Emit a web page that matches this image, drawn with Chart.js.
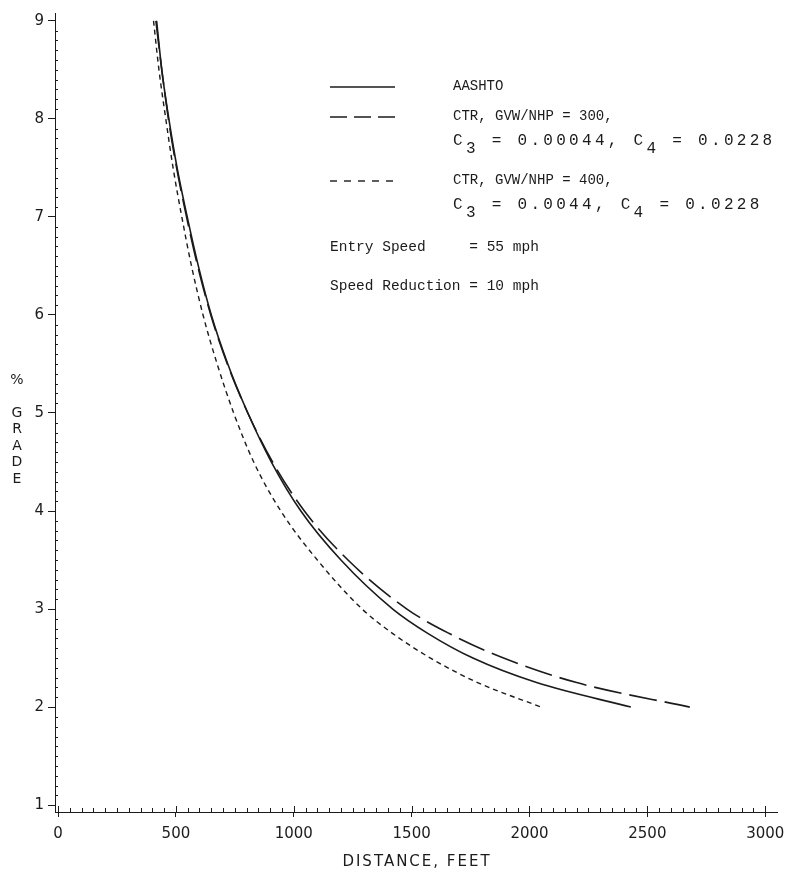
<!DOCTYPE html>
<html>
<head>
<meta charset="utf-8">
<script src="https://cdn.jsdelivr.net/npm/chart.js@4.4.1/dist/chart.umd.min.js"></script>
<style>
  html, body { margin: 0; padding: 0; background: #fff; }
  #wrap { width: 791px; height: 876px; position: relative; }
</style>
</head>
<body>
<div id="wrap"><canvas id="myChart"></canvas></div>
<script>
// % grade at which each distance was read
const grades = [9.0, 8.5, 8.0, 7.5, 7.0, 6.5, 6.0, 5.5, 5.0, 4.5, 4.0, 3.5, 3.0, 2.75, 2.5, 2.25, 2.0];
// distance in feet for each curve
const aashto = [418, 440, 470, 505, 548, 595, 650, 720, 805, 905, 1030, 1200, 1420, 1570, 1760, 2030, 2430];
const ctr300 = [415, 440, 468, 503, 545, 592, 648, 718, 805, 910, 1045, 1230, 1480, 1660, 1890, 2200, 2680];
const ctr400 = [405, 428, 457, 488, 525, 566, 615, 675, 745, 830, 945, 1100, 1290, 1420, 1580, 1780, 2050];

const xTicks = [0, 500, 1000, 1500, 2000, 2500, 3000];
const yTicks = [1, 2, 3, 4, 5, 6, 7, 8, 9];

const seriesNames = ['AASHTO', 'CTR, GVW/NHP = 300,', 'CTR, GVW/NHP = 400,'];
// "_" marks the next char as a subscript
const seriesParams = ['', 'C_3 = 0.00044, C_4 = 0.0228', 'C_3 = 0.0044, C_4 = 0.0228'];
const notesText = ['Entry Speed     = 55 mph', 'Speed Reduction = 10 mph'];
const xTitle = 'DISTANCE, FEET';
const yTitle = ['%', '', 'G', 'R', 'A', 'D', 'E'];

const toPts = (xs) => xs.map((d, i) => ({ x: d, y: grades[i] }));
const ink = '#1b1b1b';

// small inside ticks between the labelled ones
const minorTicks = {
  id: 'minorTicks',
  afterDraw(chart) {
    const { ctx, chartArea: a } = chart;
    const x = chart.scales.x, y = chart.scales.y;
    ctx.save();
    ctx.strokeStyle = ink;
    ctx.lineWidth = 1;
    ctx.beginPath();
    for (let v = 0; v <= 3000; v += 50) {
      const px = Math.round(x.getPixelForValue(v)) + 0.5;
      const len = v % 500 === 0 ? 6 : 4;
      ctx.moveTo(px, a.bottom);
      ctx.lineTo(px, a.bottom - len);
    }
    for (let i = 10; i <= 90; i++) {
      if (i % 10 === 0) continue;
      const py = Math.round(y.getPixelForValue(i / 10)) + 0.5;
      ctx.moveTo(a.left, py);
      ctx.lineTo(a.left + 3, py);
    }
    ctx.stroke();
    ctx.restore();
  }
};

// axis titles: stacked "% GRADE" and a spaced-out "DISTANCE, FEET"
const axisTitles = {
  id: 'axisTitles',
  afterDraw(chart) {
    const ctx = chart.ctx;
    const a = chart.chartArea;
    ctx.save();
    ctx.fillStyle = ink;
    ctx.font = '14px "DejaVu Sans"';
    ctx.textAlign = 'center';
    ctx.textBaseline = 'middle';
    const y0 = chart.scales.y.getPixelForValue(5) - 33;
    yTitle.forEach((ch, i) => ctx.fillText(ch, 17, y0 + i * 16.5));
    ctx.font = '15px "DejaVu Sans"';
    ctx.letterSpacing = '2px';
    ctx.fillText(xTitle, (a.left + a.right) / 2 + 1, 862);
    ctx.restore();
  }
};

// key with line samples and the run conditions
const keyBox = {
  id: 'keyBox',
  afterDraw(chart) {
    const ctx = chart.ctx;
    const rows = [86, 116, 180];
    const subRows = [0, 141, 205];
    const x1 = 330, x2 = 395, tx = 453;
    ctx.save();
    ctx.fillStyle = ink;
    ctx.textBaseline = 'middle';
    chart.data.datasets.forEach((ds, i) => {
      ctx.strokeStyle = ds.borderColor;
      ctx.lineWidth = ds.borderWidth;
      ctx.setLineDash(i === 0 ? [] : (i === 1 ? [17, 7] : [7, 7]));
      ctx.beginPath();
      ctx.moveTo(x1, rows[i] + 1);
      ctx.lineTo(x2, rows[i] + 1);
      ctx.stroke();
      ctx.setLineDash([]);
      ctx.font = '14px "Liberation Mono"';
      ctx.fillText(seriesNames[i], tx, rows[i]);
      if (seriesParams[i]) {
        ctx.font = '16px "Liberation Mono"';
        const pitch = 12.9;
        let col = 0, sub = false;
        for (const ch of seriesParams[i]) {
          if (ch === '_') { sub = true; continue; }
          ctx.fillText(ch, tx + col * pitch, subRows[i] + (sub ? 8 : 0));
          sub = false;
          col++;
        }
      }
    });
    ctx.font = '14.5px "Liberation Mono"';
    ctx.fillText(notesText[0], x1, 247);
    ctx.fillText(notesText[1], x1, 286);
    ctx.restore();
  }
};

const chartInstance = new Chart(document.getElementById('myChart'), {
  type: 'line',
  data: {
    datasets: [
      { label: seriesNames[0], data: toPts(aashto), borderColor: ink, borderWidth: 1.6, borderDash: [] },
      { label: seriesNames[1], data: toPts(ctr300), borderColor: ink, borderWidth: 1.6, borderDash: [28, 8] },
      { label: seriesNames[2], data: toPts(ctr400), borderColor: ink, borderWidth: 1.4, borderDash: [5, 4] }
    ]
  },
  options: {
    responsive: true,
    maintainAspectRatio: false,
    animation: false,
    layout: { padding: { left: 0, right: 14, top: 13, bottom: 0 } },
    elements: {
      point: { radius: 0 },
      line: { cubicInterpolationMode: 'monotone', fill: false }
    },
    plugins: { legend: { display: false }, tooltip: { enabled: false } },
    scales: {
      x: {
        type: 'linear',
        min: -13,
        max: 3050,
        afterBuildTicks: (s) => { s.ticks = xTicks.map(v => ({ value: v })); },
        afterFit: (s) => { s.height = 64; s.paddingLeft = 0; s.paddingRight = 0; },
        grid: { drawOnChartArea: false, color: ink, tickLength: 5 },
        border: { color: ink, width: 1 },
        ticks: {
          color: ink, padding: 8, maxRotation: 0,
          font: { family: 'DejaVu Sans', size: 15 },
          callback: (v) => String(v)
        }
      },
      y: {
        type: 'linear',
        min: 0.93,
        max: 9.08,
        afterBuildTicks: (s) => { s.ticks = yTicks.map(v => ({ value: v })); },
        afterFit: (s) => { s.width = 55; s.paddingTop = 0; s.paddingBottom = 0; },
        grid: { drawOnChartArea: false, color: ink, tickLength: 7 },
        border: { color: ink, width: 1 },
        ticks: { color: ink, padding: 4, font: { family: 'DejaVu Sans', size: 15 }, callback: (v) => String(v) }
      }
    }
  },
  plugins: [minorTicks, axisTitles, keyBox]
});
</script>
</body>
</html>
